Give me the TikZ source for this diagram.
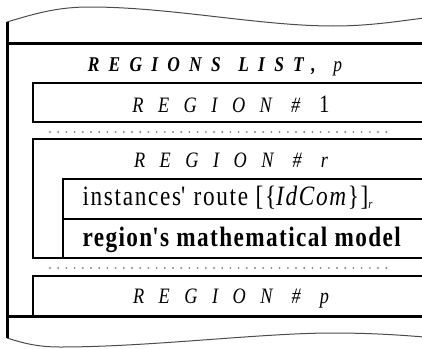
\documentclass[tikz,border=0pt]{standalone}
\usepackage{fontspec}
\setmainfont[FakeStretch=0.83]{Liberation Serif}
\usepackage{tikz}

\definecolor{dotgray}{RGB}{125,135,155}

\tikzset{
  outerline/.style={line width=3pt},
  regionbox/.style={line width=2.6pt},
  innerline/.style={line width=1.4pt},
  dotline/.style={dotgray, line width=2.1pt, line cap=round, dash pattern=on 0pt off 8.2pt},
  wave/.style={line width=1pt, black!70},
  listtitle/.style={anchor=base, font=\fontsize{21}{25}\selectfont\bfseries\itshape\addfontfeatures{LetterSpace=44}},
  regtitle/.style={anchor=base, font=\fontsize{22}{26}\selectfont\itshape\addfontfeatures{LetterSpace=66}},
  rowtext/.style={anchor=base west, font=\fontsize{28}{32}\selectfont\addfontfeatures{LetterSpace=6}},
}

\begin{document}
\begin{tikzpicture}[x=1pt,y=-1pt]
  %\draw[help lines,step=20] (0,0) grid (422,348);
  \clip (0,0) rectangle (422,348);

  % torn edges and list frame
  \draw[wave] (7,22) .. controls (40,12) and (60,7) .. (90,7) .. controls (170,7) and (260,26) .. (333,26) .. controls (370,26) and (400,21) .. (424,18);
  \draw[wave] (7,338) .. controls (20,342) and (35,347) .. (60,347) .. controls (150,347) and (260,333) .. (333,333) .. controls (370,333) and (400,335) .. (424,337);
  \draw[outerline] (7,22) -- (7,338);
  \draw[outerline] (7,43) -- (424,43);
  \draw[outerline] (7,316) -- (424,316);

  % region boxes
  \draw[regionbox] (424,83) -- (33,83) -- (33,122) -- (424,122);
  \draw[regionbox] (424,139) -- (33,139) -- (33,258) -- (424,258);
  \draw[innerline] (424,179) -- (63,179) -- (63,258);
  \draw[innerline] (63,219) -- (424,219);
  \draw[regionbox] (424,276) -- (33,276) -- (33,316);

  \draw[dotline] (50,132) -- (392,132);
  \draw[dotline] (50,268) -- (392,268);

  % texts
  \draw (215,71) node[listtitle] (list) {REGIONS\hspace{4pt} LIST,\hspace{4pt} \mdseries p};
  \draw (231,112) node[regtitle] (reg1) {REGION \# {\upshape\addfontfeatures{LetterSpace=0}\fontsize{25}{25}\selectfont 1}};
  \draw (231,167) node[regtitle] (regr) {REGION \# r};
  \draw (79,205) node[rowtext] (route) {instances\textquotesingle{} route [\{\textit{IdCom}\}]\raisebox{-3pt}{\fontsize{13}{13}\selectfont\itshape r}};
  \draw (79,246) node[rowtext,font=\fontsize{28}{32}\selectfont\bfseries\addfontfeatures{LetterSpace=5}] (model) {region\textquotesingle{}s mathematical model};
  \draw (231,303) node[regtitle] (regp) {REGION \# p};
\end{tikzpicture}
\end{document}
